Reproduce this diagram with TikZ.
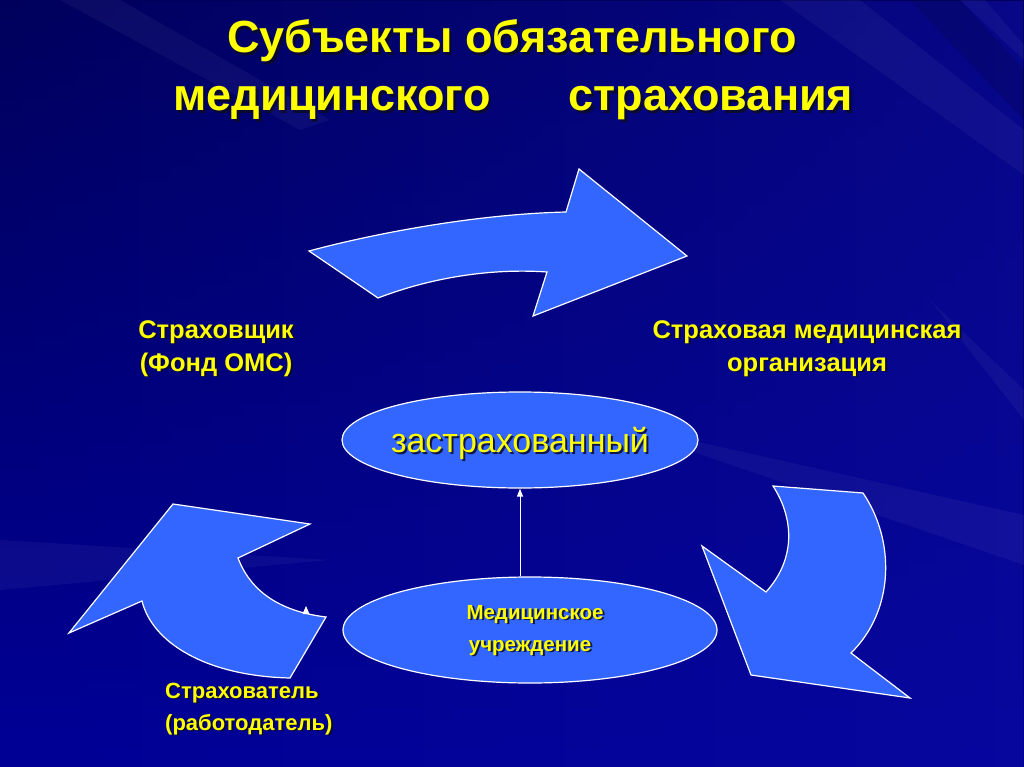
\documentclass[tikz,border=0pt]{standalone}
\usepackage{fontspec}
\setmainfont{Liberation Sans}
\usetikzlibrary{arrows.meta,shapes.geometric,fadings}
\definecolor{bgdark}{RGB}{0,0,92}
\definecolor{bgbottom}{RGB}{0,0,150}
\definecolor{bgright}{RGB}{12,12,165}
\definecolor{shapeblue}{RGB}{51,102,255}
\definecolor{txtyellow}{RGB}{255,255,0}
\definecolor{shd}{RGB}{10,10,40}
\tikzset{
  ttl/.style={font=\fontsize{45}{45}\selectfont\bfseries, inner sep=0pt, anchor=base},
  lbl/.style={font=\fontsize{25.5}{25.5}\selectfont\bfseries, inner sep=0pt, anchor=base},
  lblb/.style={font=\fontsize{22}{22}\selectfont\bfseries, inner sep=0pt, anchor=base west},
  lblsm/.style={font=\fontsize{20.5}{20.5}\selectfont\bfseries, inner sep=0pt, anchor=base},
  reg/.style={font=\fontsize{34}{34}\selectfont, inner sep=0pt, anchor=base},
  yel/.style={text=txtyellow},
  sh/.style={text=shd, opacity=0.85},
  blob/.style={fill=shapeblue, draw=white, line width=1.2pt, line join=miter},
  ell/.style={ellipse, fill=shapeblue, draw=white, line width=1.2pt, inner sep=0pt},
  ray/.style={fill=white, opacity=0.045},
  dray/.style={fill=black, opacity=0.12}
}
\begin{document}
\begin{tikzpicture}[x=1pt,y=-1pt]
\useasboundingbox (0,0) rectangle (1024,767);
% background
\shade[top color=bgdark, bottom color=bgbottom] (0,0) rectangle (1024,767);
\fill[bgright, path fading=west, opacity=0.6] (0,0) rectangle (1024,767);
\fill[ray] (780,0) -- (860,0) -- (1024,130) -- (1024,175) -- cycle;
\fill[dray] (910,0) -- (960,0) -- (1024,70) -- (1024,120) -- cycle;
\fill[ray] (960,0) -- (985,0) -- (1024,45) -- (1024,60) -- cycle;
\fill[ray] (930,300) -- (1024,390) -- (1024,420) -- cycle;
\fill[ray] (600,420) -- (1024,515) -- (1024,565) -- cycle;
\fill[ray] (0,540) -- (330,560) -- (0,590) -- cycle;
\fill[ray] (60,0) -- (120,0) -- (330,120) -- (300,130) -- cycle;

% title
\node[ttl,sh] at (514.5,55.5) {Субъекты обязательного};
\node[ttl,yel] (t1) at (512,53) {Субъекты обязательного};
\node[ttl,sh] at (334.5,113.5) {медицинского};
\node[ttl,yel] (t2) at (332,111) {медицинского};
\node[ttl,sh] at (713.5,113.5) {страхования};
\node[ttl,yel] (t3) at (711,111) {страхования};

% top arrow
\draw[blob] (309,251) -- (378,298) .. controls (430,278) and (490,268) .. (547,272)
  -- (533,316) -- (687,256) -- (579,169) -- (566,212)
  .. controls (480,214) and (380,232) .. (309,251) -- cycle;

% left arrow
\draw[blob] (173,504) -- (310,524) -- (238,558) .. controls (252,595) and (285,612) .. (326,617)
  -- (290,678) .. controls (205,676) and (152,642) .. (142,601) -- (69,633) -- cycle;
\fill[white] (302.5,614) -- (306,606) -- (309.5,614) -- cycle;

% right arrow
\draw[blob] (773,486) -- (863,493) .. controls (895,540) and (895,610) .. (851,653)
  -- (910,698) -- (751,675) -- (702,546) -- (766,592)
  .. controls (795,560) and (795,520) .. (773,486) -- cycle;

% labels
\node[lbl,sh] at (218,339.5) {Страховщик};
\node[lbl,yel] (ins) at (216,338) {Страховщик};
\node[lbl,sh] at (218,372.5) {(Фонд ОМС)};
\node[lbl,yel] (ins2) at (216,371) {(Фонд ОМС)};
\node[lbl,sh] at (809,339.5) {Страховая медицинская};
\node[lbl,yel] (smo) at (807,338) {Страховая медицинская};
\node[lbl,sh] at (809,372.5) {организация};
\node[lbl,yel] (smo2) at (807,371) {организация};
\node[lblb,sh] at (167,699.5) {Страхователь};
\node[lblb,yel] (emp) at (165,698) {Страхователь};
\node[lblb,sh] at (167,731.5) {(работодатель)};
\node[lblb,yel] (emp2) at (165,730) {(работодатель)};

% ellipses
\node[ell, minimum width=356pt, minimum height=96pt] (z) at (520,440) {};
\node[ell, minimum width=374pt, minimum height=106pt] (m) at (530,630) {};
\node[reg,sh] at (522,454.5) {застрахованный};
\node[reg,yel] (zt) at (520,452) {застрахованный};
\node[lblsm,sh] at (537,620.5) {Медицинское};
\node[lblsm,yel] (mt1) at (535,619) {Медицинское};
\node[lblsm,sh] at (532,652.5) {учреждение};
\node[lblsm,yel] (mt2) at (530,651) {учреждение};

\draw[white, line width=1pt, -{Triangle[width=6pt,length=8pt]}] (m.north -| z.south) -- (z.south);
\end{tikzpicture}
\end{document}
